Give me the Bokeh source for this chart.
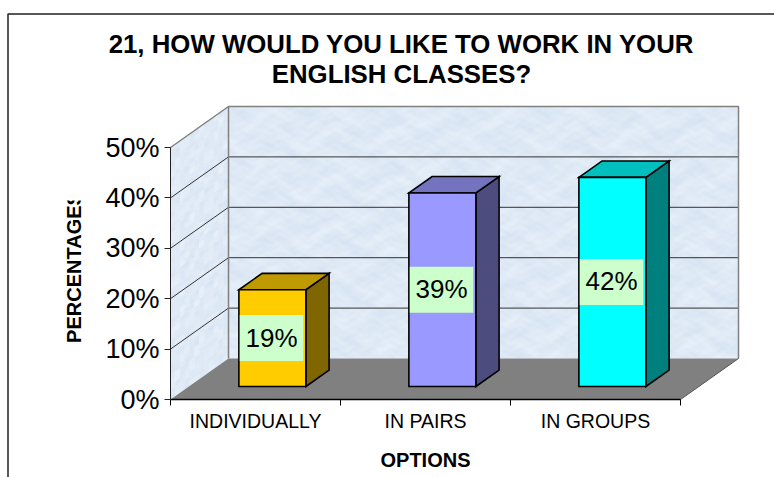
import numpy as np
from bokeh.embed import file_html
from bokeh.resources import INLINE
from bokeh.plotting import figure
from bokeh.core.properties import value
from bokeh.models import FixedTicker, LinearAxis, PrintfTickFormatter

categories = ["INDIVIDUALLY", "IN PAIRS", "IN GROUPS"]
bar_values = [19.2, 38.4, 41.5]
bar_labels = ["19%", "39%", "42%"]
y_ticks = [0, 10, 20, 30, 40, 50]
front_colors = ["#FFCC00", "#9999FF", "#00FFFF"]
top_colors = ["#BF9900", "#7373BF", "#00BFBF"]
side_colors = ["#7F6600", "#4C4C7F", "#007F7F"]
title_lines = ["21, HOW WOULD YOU LIKE TO WORK IN YOUR", "ENGLISH CLASSES?"]
x_title = "OPTIONS"
y_title = "PERCENTAGES"

W, H = 774, 477
PX_PER_CAT, PX_PER_PCT = 170.0, 5.04
ORIGIN_X, ORIGIN_Y = 170.0, 399.0
DX, DY = 58.0 / PX_PER_CAT, 41.0 / PX_PER_PCT
NC = len(categories)
YMAX = y_ticks[-1]


def xd(px):
    return (px - ORIGIN_X) / PX_PER_CAT


def yd(py):
    return (ORIGIN_Y - py) / PX_PER_PCT


p = figure(width=W, height=H, output_backend="svg", toolbar_location=None,
           x_range=(xd(0), xd(W)), y_range=(yd(H), yd(0)),
           x_axis_type=None, y_axis_type=None, min_border=0)
p.outline_line_color = None
p.grid.visible = False
p.background_fill_color = "white"
p.border_fill_color = "white"


def noise(u, v):
    a = np.sin(u * 41 + 2.1 * np.sin(v * 31))
    b = np.sin(v * 67 + 2.4 * np.sin(u * 53))
    c = np.sin(u * 149 + 1.9 * np.sin(v * 97 + 1.1 * np.sin(u * 61)))
    d = np.sin(v * 211 + 2.2 * np.sin(u * 173))
    return (a + b + 0.8 * c + 0.7 * d) / 3.5


def tint(n):
    r = 223 + 9 * n
    g = 234 + 7 * n
    b = 246 + 4 * n
    return np.clip(r, 0, 255).astype(np.uint8), np.clip(g, 0, 255).astype(np.uint8), np.clip(b, 0, 255).astype(np.uint8)


# back wall texture
uu, vv = np.meshgrid(np.linspace(0, 1, 255), np.linspace(0, 1, 125))
r, g, b = tint(noise(uu, vv))
img = np.zeros(uu.shape, dtype=np.uint32)
view = img.view(dtype=np.uint8).reshape(uu.shape + (4,))
view[..., 0], view[..., 1], view[..., 2], view[..., 3] = r, g, b, 255
p.image_rgba(image=[img], x=DX, y=DY, dw=NC, dh=YMAX)

# side wall texture
nu, nv = 12, 50
xs_cells, ys_cells, cols = [], [], []
for i in range(nu):
    for j in range(nv):
        d0, d1 = i / nu, (i + 1) / nu
        v0, v1 = YMAX * j / nv, YMAX * (j + 1) / nv
        xs_cells.append([d0 * DX, d1 * DX, d1 * DX, d0 * DX])
        ys_cells.append([v0 + d0 * DY, v0 + d1 * DY, v1 + d1 * DY, v1 + d0 * DY])
        cr, cg, cb = tint(np.array(noise(d0 * 0.5 + 0.13, j / nv + 0.41)))
        cols.append("#%02x%02x%02x" % (int(cr), int(cg), int(cb)))
p.patches(xs_cells, ys_cells, fill_color=cols, line_color=cols, line_width=0.5)

# floor
p.patch([0, NC, NC + DX, DX], [0, 0, DY, DY], fill_color="#808080", line_color=None)

# gridlines
for t in y_ticks[1:-1]:
    p.line([0, DX, NC + DX], [t, t + DY, t + DY], line_color="#333333", line_width=1)

# wall edges
p.line([0, DX, NC + DX, NC + DX], [YMAX, YMAX + DY, YMAX + DY, DY], line_color="#808080", line_width=1.5)
p.line([DX, DX], [DY, YMAX + DY], line_color="#808080", line_width=1.5)
p.line([NC, NC + DX], [0, DY], line_color="#555555", line_width=1)

# bars
BAR_W = 67.0 / PX_PER_CAT
BAR_SHIFT = -1.5 / PX_PER_CAT
D0, D1 = 0.317, 0.717
for i, val in enumerate(bar_values):
    x0 = i + 0.5 - BAR_W / 2 + D0 * DX + BAR_SHIFT
    x1 = x0 + BAR_W
    y0 = D0 * DY
    y1 = y0 + val
    sx, sy = (D1 - D0) * DX, (D1 - D0) * DY
    kw = dict(line_color="black", line_width=1.6, line_join="miter")
    p.patch([x1, x1 + sx, x1 + sx, x1], [y0, y0 + sy, y1 + sy, y1], fill_color=side_colors[i], **kw)
    p.patch([x0, x1, x1 + sx, x0 + sx], [y1, y1, y1 + sy, y1 + sy], fill_color=top_colors[i], **kw)
    p.patch([x0, x1, x1, x0], [y0, y0, y1, y1], fill_color=front_colors[i], **kw)
    cx, cy = (x0 + x1) / 2 - 0.005, (y0 + y1) / 2
    p.rect([cx], [cy], width=63.5 / PX_PER_CAT, height=46 / PX_PER_PCT, fill_color="#CCFFCC", line_color=None)
    p.text([cx], [cy - 1 / PX_PER_PCT * -0.5], text=[bar_labels[i]], text_align="center", text_baseline="middle",
           text_font=value("Liberation Sans"), text_font_size="26px", text_color="black")

# axes
yax = LinearAxis(ticker=FixedTicker(ticks=y_ticks), formatter=PrintfTickFormatter(format="%d%%"),
                 bounds=(0, YMAX), fixed_location=0)
yax.major_tick_out, yax.major_tick_in = 6, 0
yax.minor_tick_line_color = None
yax.axis_line_color, yax.major_tick_line_color = "#222222", "#222222"
yax.major_label_text_font = "Liberation Sans"
yax.major_label_text_font_size = "27px"
yax.major_label_text_color = "black"
yax.major_label_standoff = 5
p.add_layout(yax, "left")

xax = LinearAxis(ticker=FixedTicker(ticks=[i + 0.5 for i in range(NC)], minor_ticks=list(range(NC + 1))),
                 major_label_overrides={i + 0.5: c for i, c in enumerate(categories)},
                 bounds=(0, NC), fixed_location=0)
xax.major_tick_line_color = None
xax.major_tick_out, xax.major_tick_in = 0, 0
xax.minor_tick_out, xax.minor_tick_in = 6, 0
xax.minor_tick_line_color = "black"
xax.axis_line_color = "black"
xax.axis_line_width = 1.5
xax.major_label_text_font = "Liberation Sans"
xax.major_label_text_font_size = "19.5px"
xax.major_label_text_color = "black"
xax.major_label_standoff = 4
p.add_layout(xax, "below")

# chart area frame (top and left edges)
p.line([xd(W), xd(7.5), xd(7.5)], [yd(13.5), yd(13.5), yd(H)], line_color="#222222", line_width=1.5)

# titles
bold = dict(text_font=value("Liberation Sans"), text_font_style="bold", text_color="black",
            text_align="center", text_baseline="middle")
for line, py in zip(title_lines, [43, 73]):
    p.text([xd(401)], [yd(py)], text=[line], text_font_size="25.8px", **bold)
p.text([xd(425)], [yd(459)], text=[x_title], text_font_size="20px", **bold)
p.text([xd(73)], [yd(267)], text=[y_title], angle=np.pi / 2, text_font_size="20px", **bold)
# the reference clips the end of the vertical axis title
p.quad(left=[xd(60)], right=[xd(90)], bottom=[yd(200)], top=[yd(185)], fill_color="white", line_color=None)

open("out.html", "w").write(file_html(p, INLINE))
